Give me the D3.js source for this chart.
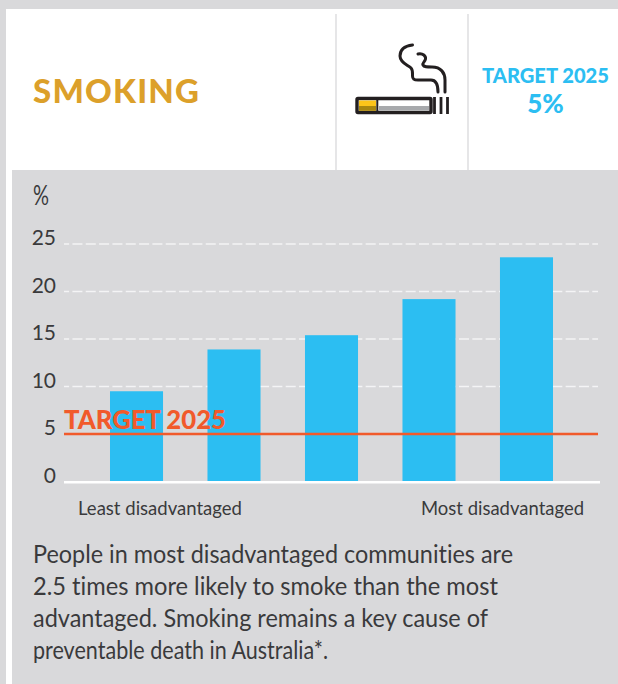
<!DOCTYPE html>
<html><head><meta charset="utf-8">
<script src="https://cdn.jsdelivr.net/npm/d3@7"></script>
<style>html,body{margin:0;padding:0;background:#d9d9db;overflow:hidden}svg{display:block}text{font-variant-ligatures:none}</style>
</head><body><svg id="c" width="618" height="684"></svg>
<script>
const categories = ["Q1","Q2","Q3","Q4","Q5"];
const values = [9.5,13.9,15.4,19.2,23.6];
const yTicks = [0,5,10,15,20,25];
const target = 5;
const titleText = "SMOKING";
const targetHead = "TARGET 2025";
const targetValue = "5%";
const unitLabel = "%";
const xEnds = ["Least disadvantaged","Most disadvantaged"];
const bodyLines = ["People in most disadvantaged communities are","2.5 times more likely to smoke than the most","advantaged. Smoking remains a key cause of","preventable death in Australia*."];
const bodyWidths = [480,465,455,295];

const svg = d3.select("#c");
const font = "Lato, 'Open Sans', sans-serif";
const grey="#d9d9db", blue="#2cbef2", orange="#f15a2b", ink="#3a3a3c";
const fit="spacingAndGlyphs";
svg.append("rect").attr("width",618).attr("height",684).attr("fill",grey);
svg.append("rect").attr("x",6).attr("y",9).attr("width",612).attr("height",161).attr("fill","#fff");
svg.append("rect").attr("x",6).attr("y",9).attr("width",6).attr("height",675).attr("fill","#fff");
[336,468].forEach(x=>svg.append("line").attr("x1",x).attr("x2",x).attr("y1",14).attr("y2",170).attr("stroke","#d9d9db").attr("stroke-width",1.3));

svg.append("text").attr("x",33).attr("y",103).attr("font-family",font).attr("font-weight",900).attr("font-size",33).attr("textLength",166).attr("lengthAdjust","spacing").attr("fill","#dca02a").text(titleText);
svg.append("text").attr("x",545.5).attr("y",83).attr("text-anchor","middle").attr("font-family",font).attr("font-weight",900).attr("font-size",20.5).attr("textLength",127).attr("lengthAdjust",fit).attr("fill",blue).text(targetHead);
svg.append("text").attr("x",545.5).attr("y",113).attr("text-anchor","middle").attr("font-family",font).attr("font-weight",900).attr("font-size",26).attr("fill",blue).text(targetValue);

// icon
const dark="#231f20";
const ic = svg.append("g");
ic.append("rect").attr("x",357).attr("y",98.5).attr("width",74).attr("height",14).attr("rx",1).attr("fill","#fff").attr("stroke",dark).attr("stroke-width",3.4);
ic.append("rect").attr("x",359).attr("y",100.5).attr("width",17).attr("height",10).attr("fill","#fcc419");
ic.append("rect").attr("x",359).attr("y",106).attr("width",17).attr("height",4.8).attr("fill","#a8860f");
ic.append("rect").attr("x",379).attr("y",106).attr("width",50).attr("height",4.5).attr("fill","#a7a9ac");
ic.append("line").attr("x1",377.3).attr("x2",377.3).attr("y1",98).attr("y2",113).attr("stroke",dark).attr("stroke-width",2);
[434.5,441,447.5].forEach(x=>ic.append("line").attr("x1",x).attr("x2",x).attr("y1",97).attr("y2",114).attr("stroke",dark).attr("stroke-width",2.8));
ic.append("path").attr("fill","none").attr("stroke",dark).attr("stroke-width",3).attr("stroke-linecap","round").attr("d","M412.5 45 C404 46 400 50 400 56 C400 63 408 65 411 68 C413 70 412.5 73 412.5 76 C412.5 79 414 80 418 80 L431 80 C436 80 438 84 438 92");
ic.append("path").attr("fill","none").attr("stroke",dark).attr("stroke-width",3).attr("stroke-linecap","round").attr("d","M418 54 C423 53 426 56 425.5 59 C425 62 422 63 423 65 C424 67 427 67 432 67 C441 67 445 73 445 80 L445 92");

const x = d3.scaleBand().domain(categories).range([88,575]).paddingInner(0.456).paddingOuter(0.2256);
const y = d3.scaleLinear().domain([0,25]).range([481.5,244]);

yTicks.filter(d=>d>0).forEach(d=>svg.append("line").attr("x1",64).attr("x2",598).attr("y1",y(d)).attr("y2",y(d)).attr("stroke","#f4f4f5").attr("stroke-width",1.4).attr("stroke-dasharray","10 3.33").attr("stroke-dashoffset",4.9));
svg.selectAll(".b").data(values).join("rect").attr("class","b").attr("x",(d,i)=>x(categories[i])).attr("width",x.bandwidth()).attr("y",d=>y(d)).attr("height",d=>y(0)-y(d)).attr("fill",blue);
svg.append("line").attr("x1",64).attr("x2",600).attr("y1",y(0)+.7).attr("y2",y(0)+.7).attr("stroke","#fff").attr("stroke-width",2.6);
svg.selectAll(".t").data(yTicks).join("text").attr("class","t").attr("x",56).attr("y",d=>y(d)+1).attr("text-anchor","end").attr("font-family",font).attr("font-size",21).attr("fill",ink).text(d=>d);
svg.append("text").attr("x",33).attr("y",205).attr("font-family",font).attr("font-size",27).attr("textLength",16).attr("lengthAdjust",fit).attr("fill",ink).text(unitLabel);
svg.append("line").attr("x1",64).attr("x2",598).attr("y1",y(target)).attr("y2",y(target)).attr("stroke",orange).attr("stroke-width",2.4);
svg.append("text").attr("x",64).attr("y",428.5).attr("font-family",font).attr("font-weight",900).attr("font-size",26).attr("textLength",162).attr("lengthAdjust",fit).attr("fill",orange).text(targetHead);
svg.append("text").attr("x",78).attr("y",515).attr("font-family",font).attr("font-size",19).attr("textLength",164).attr("lengthAdjust",fit).attr("fill",ink).text(xEnds[0]);
svg.append("text").attr("x",421).attr("y",515).attr("font-family",font).attr("font-size",19).attr("textLength",163).attr("lengthAdjust",fit).attr("fill",ink).text(xEnds[1]);
svg.selectAll(".p").data(bodyLines).join("text").attr("class","p").attr("x",33).attr("y",(d,i)=>563+i*32).attr("font-family",font).attr("font-size",24.5).attr("textLength",(d,i)=>bodyWidths[i]).attr("lengthAdjust",fit).attr("fill",ink).text(d=>d);
</script></body></html>
